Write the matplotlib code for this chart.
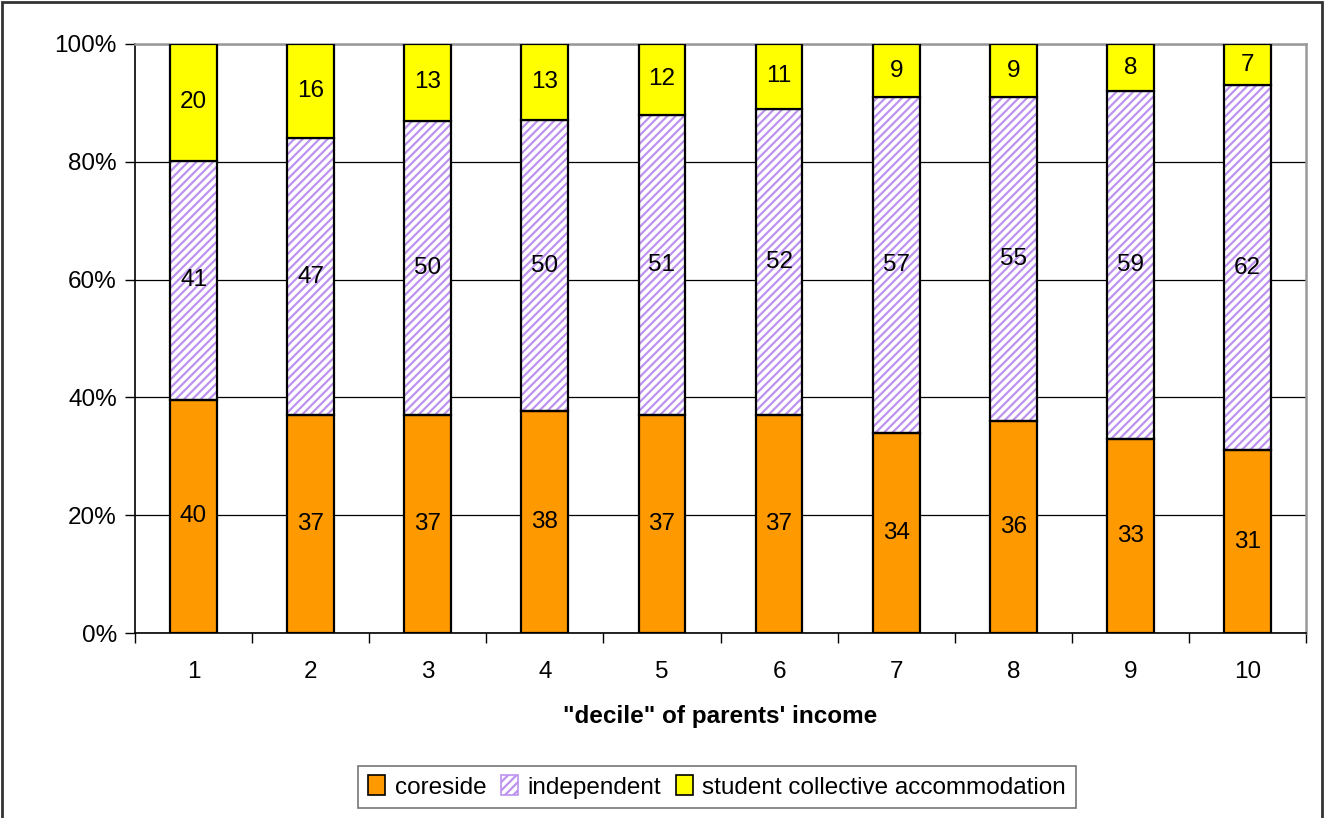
import matplotlib
matplotlib.use("Agg")
import matplotlib.pyplot as plt
import numpy as np
from matplotlib.patches import Rectangle, Patch

categories = ["1", "2", "3", "4", "5", "6", "7", "8", "9", "10"]
coreside = [40, 37, 37, 38, 37, 37, 34, 36, 33, 31]
independent = [41, 47, 50, 50, 51, 52, 57, 55, 59, 62]
student = [20, 16, 13, 13, 12, 11, 9, 9, 8, 7]
series_names = ["coreside", "independent", "student collective accommodation"]
yticklabels = ["0%", "20%", "40%", "60%", "80%", "100%"]

plt.rcParams['font.family'] = ['Liberation Sans', 'DejaVu Sans']
plt.rcParams['hatch.linewidth'] = 1.6

ORANGE = "#FF9900"
YELLOW = "#FFFF00"
PURPLE = "#BE93F0"
FS = 17.5

fig = plt.figure(figsize=(13.25, 8.18), dpi=100)
ax = fig.add_axes([135/1325, 1-633/818, (1306-135)/1325, (633-44)/818])

vals = np.array([coreside, independent, student], dtype=float)
tot = vals.sum(axis=0)
pct = vals / tot * 100
x = np.arange(1, len(categories) + 1)
w = 0.4

bottom = np.zeros(len(x))
for i, name in enumerate(series_names):
    h = pct[i]
    if i == 1:
        ax.bar(x, h, w, bottom=bottom, color="white", edgecolor=PURPLE,
               hatch="////", linewidth=0, zorder=3)
        ax.bar(x, h, w, bottom=bottom, fill=False, edgecolor="black",
               linewidth=1.6, zorder=4)
    else:
        ax.bar(x, h, w, bottom=bottom, color=[ORANGE, None, YELLOW][i],
               edgecolor="black", linewidth=1.6, zorder=4)
    for xi, b, hh, v in zip(x, bottom, h, vals[i]):
        ax.text(xi, b + hh / 2, f"{int(v)}", ha="center", va="center",
                fontsize=FS, zorder=5)
    bottom = bottom + h

ax.set_xlim(0.5, 10.5)
ax.set_ylim(0, 100)
ax.set_yticks([0, 20, 40, 60, 80, 100])
ax.set_yticklabels(yticklabels, fontsize=FS)
ax.yaxis.grid(True, color="black", linewidth=0.9, zorder=1)
ax.set_axisbelow(True)

ax.set_xticks(np.arange(0.5, 11.0, 1.0))
ax.set_xticklabels([])
ax.set_xticks(x, minor=True)
ax.set_xticklabels(categories, minor=True, fontsize=FS)
ax.tick_params(axis="x", which="major", length=7, width=1, direction="out")
ax.tick_params(axis="x", which="minor", length=0, pad=20)
ax.tick_params(axis="y", length=7, width=1, direction="out", pad=6)

ax.set_xlabel("\"decile\" of parents' income", fontsize=FS, fontweight="bold", labelpad=16)

for s in ["left", "bottom"]:
    ax.spines[s].set_color("black")
    ax.spines[s].set_linewidth(1.2)
for s in ["top", "right"]:
    ax.spines[s].set_color("#999999")
    ax.spines[s].set_linewidth(1.8)

handles = [
    Patch(facecolor=ORANGE, edgecolor="black", linewidth=1.2),
    Patch(facecolor="white", edgecolor=PURPLE, hatch="////", linewidth=1.2),
    Patch(facecolor=YELLOW, edgecolor="black", linewidth=1.2),
]
leg = fig.legend(handles, series_names, loc="center", bbox_to_anchor=(717/1325, 1-787/818),
                 ncol=3, fontsize=FS, frameon=True, fancybox=False,
                 handlelength=0.7, handleheight=0.9, handletextpad=0.4,
                 columnspacing=0.6, borderpad=0.4)
leg.get_frame().set_edgecolor("#555555")
leg.get_frame().set_linewidth(1.2)

fig.patches.append(Rectangle((2/1325, -0.05), (1322-2)/1325, 1.05 - 2/818,
                             transform=fig.transFigure, fill=False,
                             edgecolor="#333333", linewidth=2))

fig.savefig("out.png", dpi=100)
